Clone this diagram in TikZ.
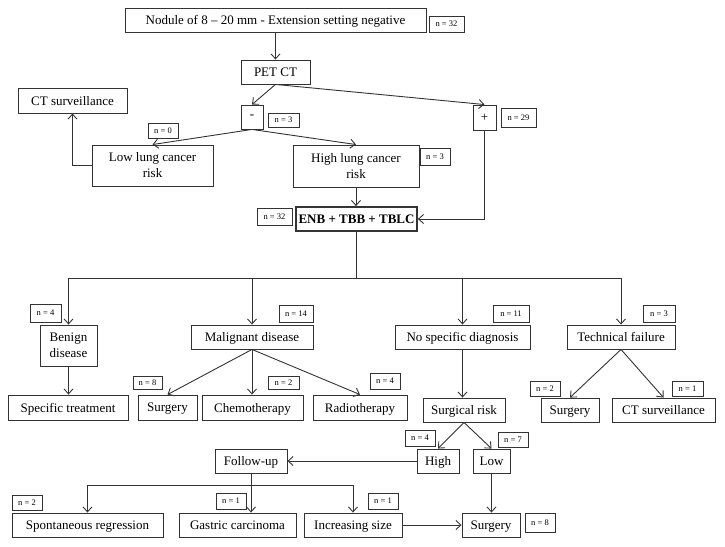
\documentclass[tikz,border=0pt]{standalone}
\usepackage{fontspec}
\setmainfont{Liberation Serif}
\usetikzlibrary{arrows.meta}
\begin{document}
\begin{tikzpicture}[x=1pt,y=-1pt,
  box/.style={draw=black!80,line width=0.9pt,inner sep=0pt,align=center,text depth=0pt,font=\fontsize{13}{16}\selectfont},
  box2/.style={draw=black!80,line width=0.9pt,inner sep=0pt,align=center,font=\fontsize{13}{16}\selectfont},
  nb/.style={draw=black!80,line width=0.9pt,inner sep=0pt,font=\fontsize{8.5}{9}\selectfont},
  conn/.style={draw=black!80,line width=0.9pt},
  arr/.style={conn,-{Straight Barb[length=5pt,width=9pt,line width=0.9pt]}}]
\useasboundingbox (0,0) rectangle (725,546);
\newcommand{\bx}[6][box]{\node[#1,minimum width=#4,minimum height=#5] (#2) at #3 {#6};}
\bx{top}{(275.5,20)}{301}{24}{Nodule of 8 -- 20 mm - Extension setting negative}
\bx[nb]{n32a}{(446.5,24)}{35}{16}{n = 32}
\bx{pet}{(275.5,72)}{69}{24}{PET CT}
\bx{minus}{(252,117)}{22}{24}{-}
\bx[nb]{n3a}{(283.5,120)}{31}{14}{n = 3}
\bx{plus}{(484.5,117.5)}{23}{25}{+}
\bx[nb]{n29}{(518.5,117.5)}{35}{19}{n = 29}
\bx{ctsL}{(72.5,100.5)}{109}{25}{CT surveillance}
\bx[nb]{n0}{(163,130.5)}{30}{15}{n = 0}
\bx[box2]{low}{(152.5,165.5)}{121}{41}{Low lung cancer\\risk}
\bx[box2]{high}{(356,166)}{126}{42}{High lung cancer\\risk}
\bx[nb]{n3b}{(435,156.5)}{30}{17}{n = 3}
\node[box,line width=1.8pt,minimum width=121,minimum height=24,font=\fontsize{13}{16}\selectfont\bfseries] (enb) at (356.5,219) {ENB + TBB + TBLC};
\bx[nb]{n32b}{(274.5,216.5)}{35}{17}{n = 32}
\bx[box2]{benign}{(68.5,345.5)}{57}{41}{Benign\\disease}
\bx[nb]{n4a}{(45.5,313)}{31}{18}{n = 4}
\bx{malig}{(252,337)}{122}{24}{Malignant disease}
\bx[nb]{n14}{(296,313.5)}{34}{17}{n = 14}
\bx{nospec}{(462.5,337)}{135}{24}{No specific diagnosis}
\bx[nb]{n11}{(511,313.5)}{36}{17}{n = 11}
\bx{tech}{(621,337)}{108}{24}{Technical failure}
\bx[nb]{n3c}{(659,313.5)}{32}{17}{n = 3}
\bx{spectr}{(68,407.5)}{120}{25}{Specific treatment}
\bx{surgA}{(167.5,407.5)}{59}{25}{Surgery}
\bx{chemo}{(252.5,407.5)}{101}{25}{Chemotherapy}
\bx{radio}{(360,407.5)}{94}{25}{Radiotherapy}
\bx[nb]{n8a}{(147.5,382.5)}{29}{13}{n = 8}
\bx[nb]{n2a}{(283.5,382.5)}{31}{13}{n = 2}
\bx[nb]{n4b}{(385,381)}{30}{16}{n = 4}
\bx{srisk}{(464,410)}{82}{24}{Surgical risk}
\bx{surgB}{(570,410)}{58}{24}{Surgery}
\bx{ctsR}{(663.5,410)}{103}{24}{CT surveillance}
\bx[nb]{n2b}{(545,388.5)}{30}{15}{n = 2}
\bx[nb]{n1a}{(687.5,388.5)}{31}{15}{n = 1}
\bx{hi}{(438,461)}{42}{24}{High}
\bx{lo}{(491.5,461)}{37}{24}{Low}
\bx[nb]{n4c}{(420,438)}{30}{16}{n = 4}
\bx[nb]{n7}{(513,439.5)}{30}{15}{n = 7}
\bx{fup}{(251,461)}{72}{24}{Follow-up}
\bx{spont}{(87.5,525)}{151}{24}{Spontaneous regression}
\bx[nb]{n2c}{(27,502.5)}{30}{15}{n = 2}
\bx{gastric}{(237.5,525)}{117}{24}{Gastric carcinoma}
\bx[nb]{n1b}{(231,501)}{30}{16}{n = 1}
\bx{incr}{(353,525)}{98}{24}{Increasing size}
\bx[nb]{n1c}{(383,501)}{30}{16}{n = 1}
\bx{surgC}{(491,525)}{58}{24}{Surgery}
\bx[nb]{n8b}{(540,522.5)}{30}{19}{n = 8}
% connectors
\draw[arr] (top.south) -- (pet.north);
\draw[arr] (pet.south) -- (minus.north);
\draw[arr] (pet.south) -- (plus.north);
\draw[arr] (minus.south) -- (low.north);
\draw[arr] (minus.south) -- (high.north);
\draw[arr] (low.west) -| (ctsL.south);
\draw[arr] (high.south) -- (high.south |- enb.north);
\draw[arr] (plus.south) |- (enb.east);
\coordinate (bus) at (356.5,278);
\draw[conn] (enb.south) -- (bus);
\draw[arr] (bus) -| (benign.north);
\draw[arr] (bus) -| (malig.north);
\draw[arr] (bus) -| (nospec.north);
\draw[arr] (bus) -| (tech.north);
\draw[arr] (benign.south) -- (benign.south |- spectr.north);
\draw[arr] (malig.south) -- (surgA.north);
\draw[arr] (malig.south) -- (malig.south |- chemo.north);
\draw[arr] (malig.south) -- (radio.north);
\draw[arr] (nospec.south) -- (nospec.south |- srisk.north);
\draw[arr] (tech.south) -- (surgB.north);
\draw[arr] (tech.south) -- (ctsR.north);
\draw[arr] (srisk.south) -- (hi.north);
\draw[arr] (srisk.south) -- (lo.north);
\draw[arr] (hi.west) -- (fup.east);
\coordinate (fbus) at (251,485);
\draw[arr] (fup.south) -- (fup.south |- gastric.north);
\draw[arr] (fbus) -| (spont.north);
\draw[arr] (fbus) -| (incr.north);
\draw[arr] (lo.south) -- (lo.south |- surgC.north);
\draw[arr] (incr.east) -- (surgC.west);
\end{tikzpicture}
\end{document}
